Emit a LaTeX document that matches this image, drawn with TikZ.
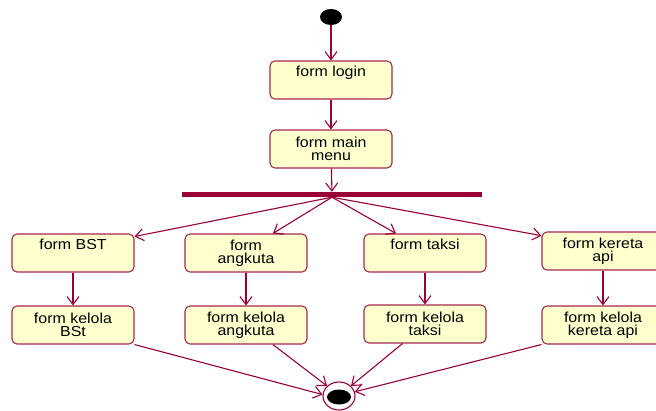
\documentclass[tikz,border=0pt]{standalone}
\usepackage{fontspec}
\setmainfont{Liberation Sans}[FakeStretch=1.1]
\usetikzlibrary{arrows.meta,shapes.geometric}
\definecolor{umlred}{RGB}{153,0,51}
\definecolor{umlbox}{RGB}{165,40,80}
\definecolor{umlfill}{RGB}{255,255,206}
\tikzset{
  act/.style={rectangle,rounded corners=5pt,draw=umlbox,fill=umlfill,line width=1.1pt,
    minimum width=122pt,minimum height=38pt,inner sep=0pt,align=center,
    font=\fontsize{14.5}{13}\selectfont},
  flow/.style={draw=umlred,line width=1.1pt,-{Straight Barb[length=8pt,width=12pt]}}
}
\begin{document}
\begin{tikzpicture}
\useasboundingbox (0pt,0pt) rectangle (656pt,-410pt);
% start, login, menu
\node (start) at (331pt,-17pt) [ellipse,fill=black,minimum width=22pt,minimum height=16pt,inner sep=0pt] {};
\node (login) at (331pt,-80pt) [act] {form login\\\strut};
\node (menu) at (331pt,-149pt) [act] {form main\\menu};
\node (fork) at (332pt,-194.5pt) [rectangle,fill=umlred,minimum width=300pt,minimum height=5pt,inner sep=0pt] {};
% first row
\node (bst) at (73pt,-253pt) [act] {form BST\\\strut};
\node (angk) at (246pt,-253pt) [act] {form\\angkuta};
\node (taksi) at (425pt,-253pt) [act] {form taksi\\\strut};
\node (kereta) at (603pt,-251pt) [act] {form kereta\\api};
% second row
\node (kbst) at (73pt,-325pt) [act] {form kelola\\BSt};
\node (kangk) at (246pt,-325pt) [act] {form kelola\\angkuta};
\node (ktaksi) at (425pt,-324pt) [act] {form kelola\\taksi};
\node (kkereta) at (603pt,-325pt) [act] {form kelola\\kereta api};
% end
\node (end) at (339pt,-396pt) [ellipse,draw=umlred,fill=white,line width=1.1pt,minimum width=32pt,minimum height=28pt,inner sep=0pt] {};
\node (endcore) at (339pt,-397pt) [ellipse,fill=black,minimum width=24pt,minimum height=15pt,inner sep=0pt] {};
% flows
\draw[flow] (start) -- (login);
\draw[flow] (login) -- (menu);
\draw[flow] (menu) -- (fork);
\draw[flow] (fork.south) -- (bst.15);
\draw[flow] (fork.south) -- (angk.36);
\draw[flow] (fork.south) -- (taksi.146);
\draw[flow] (fork.south) -- (kereta.166);
\draw[flow] (bst) -- (kbst);
\draw[flow] (angk) -- (kangk);
\draw[flow] (taksi) -- (ktaksi);
\draw[flow] (kereta) -- (kkereta);
\draw[flow] (kbst.south east) -- (end.175);
\draw[flow] (kangk.-36) -- (end.140);
\draw[flow] (ktaksi.-139) -- (end.40);
\draw[flow] (kkereta.south west) -- (end.15);
\end{tikzpicture}
\end{document}
